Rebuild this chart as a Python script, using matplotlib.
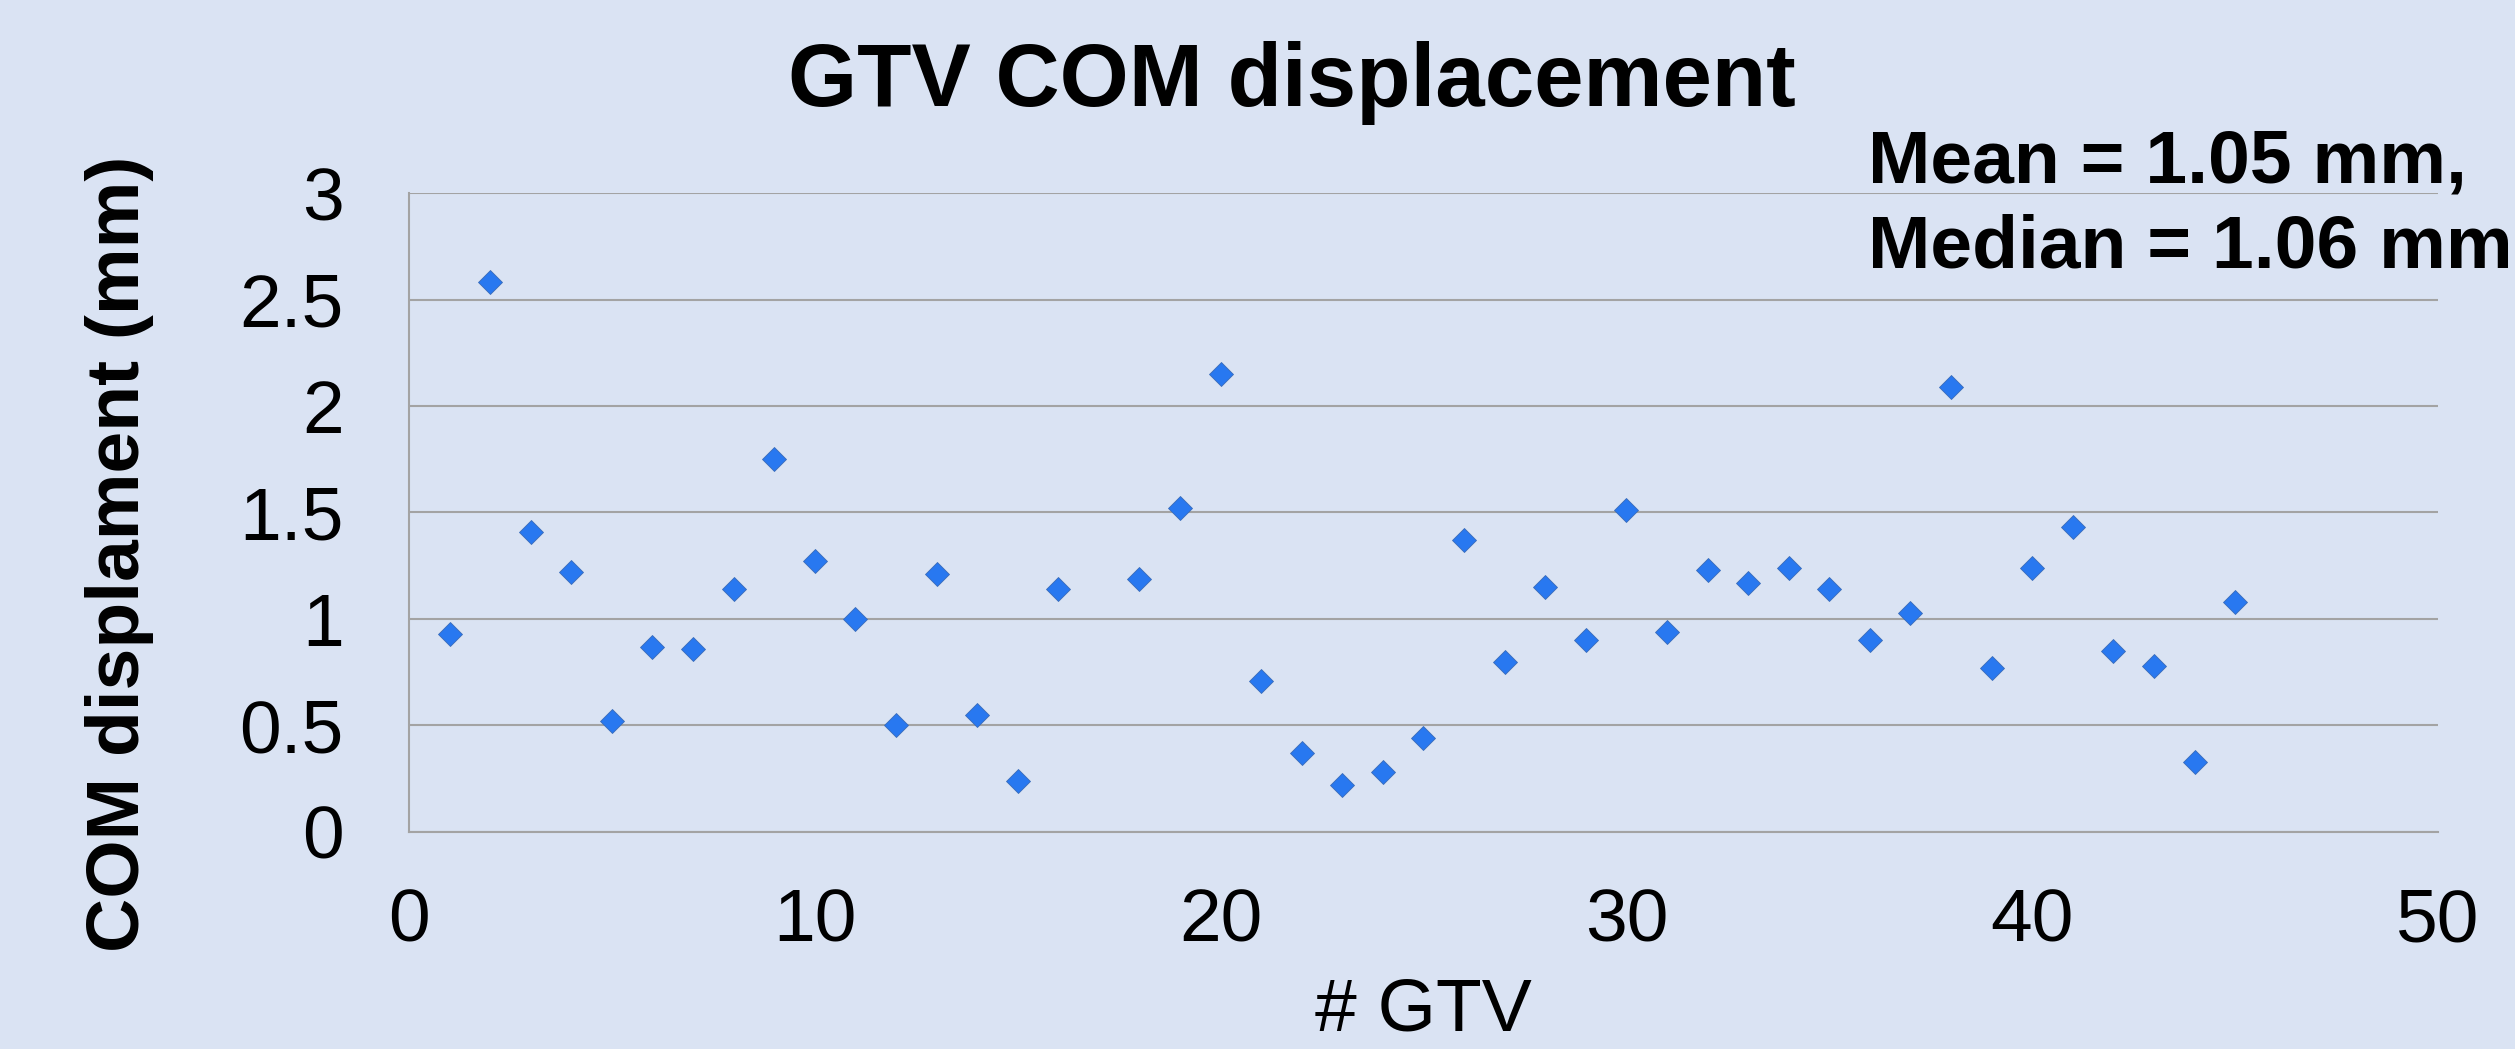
"""
GTV centre-of-mass displacement scatter chart
"""
import matplotlib
matplotlib.use('Agg')
import matplotlib.pyplot as plt

# GTV number (17 has no value)
gtv_ids = [1, 2, 3, 4, 5, 6, 7, 8, 9, 10, 11, 12, 13, 14, 15, 16,
           18, 19, 20, 21, 22, 23, 24, 25, 26, 27, 28, 29, 30, 31, 32, 33,
           34, 35, 36, 37, 38, 39, 40, 41, 42, 43, 44, 45]
displacement = [0.93, 2.58, 1.41, 1.22, 0.52, 0.87, 0.86, 1.14, 1.75, 1.27, 1.00, 0.50,
                1.21, 0.55, 0.24, 1.14, 1.19, 1.52, 2.15, 0.71, 0.37, 0.22, 0.28, 0.44,
                1.37, 0.80, 1.15, 0.90, 1.51, 0.94, 1.23, 1.17, 1.24, 1.14, 0.90, 1.03,
                2.09, 0.77, 1.24, 1.43, 0.85, 0.78, 0.33, 1.08]

x_ticks = [0, 10, 20, 30, 40, 50]
y_ticks = [0, 0.5, 1, 1.5, 2, 2.5, 3]
y_tick_labels = ['0', '0.5', '1', '1.5', '2', '2.5', '3']

title = 'GTV COM displacement'
stats_lines = ['Mean = 1.05 mm,', 'Median = 1.06 mm']
x_label = '# GTV'
y_label = 'COM displament (mm)'

bg = '#DAE3F3'
grid_color = '#A3A3A3'
plt.rcParams['font.family'] = ['Liberation Sans', 'DejaVu Sans']

fig = plt.figure(figsize=(25.15, 10.49), dpi=100, facecolor=bg)
ax = fig.add_axes([0.1626, 0.2069, 0.8068, 0.6091])
ax.set_facecolor(bg)

ax.plot(gtv_ids, displacement, linestyle='none', marker='D', markersize=12,
        markerfacecolor='#2878F0', markeredgecolor='#3A6CB8', markeredgewidth=0.6,
        zorder=3)

ax.set_xlim(0, 50)
ax.set_ylim(0, 3)
ax.set_xticks(x_ticks)
ax.set_yticks(y_ticks)
ax.set_yticklabels(y_tick_labels)
ax.tick_params(axis='both', length=0, labelsize=54)
ax.tick_params(axis='x', pad=40)
ax.tick_params(axis='y', pad=47)

ax.yaxis.grid(True, color=grid_color, linewidth=1.5)
ax.set_axisbelow(True)
for side in ['top', 'right']:
    ax.spines[side].set_visible(False)
ax.spines['left'].set_color(grid_color)
ax.spines['left'].set_linewidth(1.5)
ax.spines['bottom'].set_color(grid_color)
ax.spines['bottom'].set_linewidth(1.5)

fig.text(1292 / 2515, 1 - 106 / 1049, title, ha='center', va='baseline',
         fontsize=64, fontweight='bold')
fig.text(1868 / 2515, 1 - 182 / 1049, stats_lines[0], ha='left', va='baseline',
         fontsize=54, fontweight='bold')
fig.text(1868 / 2515, 1 - 267 / 1049, stats_lines[1], ha='left', va='baseline',
         fontsize=54, fontweight='bold')
fig.text(1423 / 2515, 0.003, x_label, ha='center', va='bottom',
         fontsize=54)
fig.text(120 / 2515, 1 - 554 / 1049, y_label, ha='center', va='center',
         rotation=90, fontsize=54, fontweight='bold')

plt.savefig('out.png', facecolor=bg, edgecolor='none')
plt.close(fig)
